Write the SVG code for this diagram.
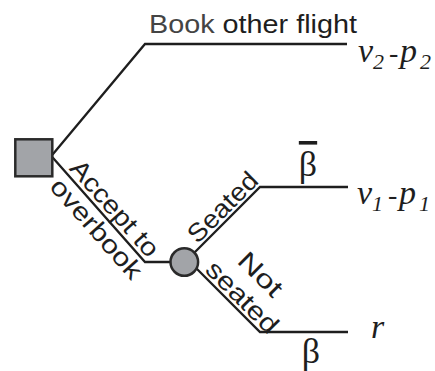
<svg xmlns="http://www.w3.org/2000/svg" width="435" height="371" viewBox="0 0 435 371">
<style>
.ln{fill:none;stroke:#1e1e1e;stroke-width:2.3;stroke-linecap:butt;stroke-linejoin:miter}
.lbl{font-family:"Liberation Sans",Arial,sans-serif;font-size:25.5px;fill:#1e1e1e}
.math{font-family:"Liberation Serif","Times New Roman",serif;font-style:italic;font-size:34px;fill:#1e1e1e}
.sub{font-family:"Liberation Serif","Times New Roman",serif;font-style:italic;font-size:22px;fill:#1e1e1e}
.op{font-family:"Liberation Serif","Times New Roman",serif;font-size:28px;fill:#1e1e1e}
.greek{font-family:"Liberation Serif","Times New Roman",serif;font-size:36px;fill:#1e1e1e}
.node{fill:#a2a4a8;stroke:#2a2a2a;stroke-width:2.5}
</style>
<rect width="435" height="371" fill="#ffffff"/>
<g id="connectors">
<polyline class="ln" points="48,160 145,44 347,44"/>
<polyline class="ln" points="48,152.3 145,262 172,262"/>
<polyline class="ln" points="193,254 260,187 348,187"/>
<polyline class="ln" points="193,265 260,332 348,332"/>
</g>
<g id="decision">
<rect class="node" x="15.3" y="139.3" width="37" height="37"/>
</g>
<g id="chance">
<circle class="node" cx="184.3" cy="262" r="13.8"/>
</g>
<g id="labels">
<text class="lbl" x="149" y="33" textLength="208" lengthAdjust="spacingAndGlyphs"><tspan fill="#444">Book</tspan> other flight</text>
<text class="lbl" transform="translate(68.5,169) rotate(48.5)" textLength="120" lengthAdjust="spacingAndGlyphs">Accept to</text>
<text class="lbl" transform="translate(48.5,187.5) rotate(48.5)" textLength="125" lengthAdjust="spacingAndGlyphs">overbook</text>
<text class="lbl" transform="translate(197.6,244.4) rotate(-45)" textLength="88" lengthAdjust="spacingAndGlyphs">Seated</text>
<text class="lbl" transform="translate(236,262) rotate(45)" textLength="52" lengthAdjust="spacingAndGlyphs">Not</text>
<text class="lbl" transform="translate(204,271) rotate(45)" textLength="91" lengthAdjust="spacingAndGlyphs">seated</text>
</g>
<g id="outcomes">
<text class="math" x="358" y="62">v</text>
<text class="sub" x="373" y="69">2</text>
<text class="op" x="389" y="62">-</text>
<text class="math" x="400" y="62">p</text>
<text class="sub" x="420" y="69">2</text>
<text class="math" x="357" y="204">v</text>
<text class="sub" x="372" y="211">1</text>
<text class="op" x="388" y="204">-</text>
<text class="math" x="399" y="204">p</text>
<text class="sub" x="419" y="211">1</text>
<text class="math" x="371" y="338">r</text>
<text class="greek" x="308" y="176" text-anchor="middle" text-decoration="overline">β</text>
<text class="greek" x="311" y="363" text-anchor="middle">β</text>
</g>
</svg>
